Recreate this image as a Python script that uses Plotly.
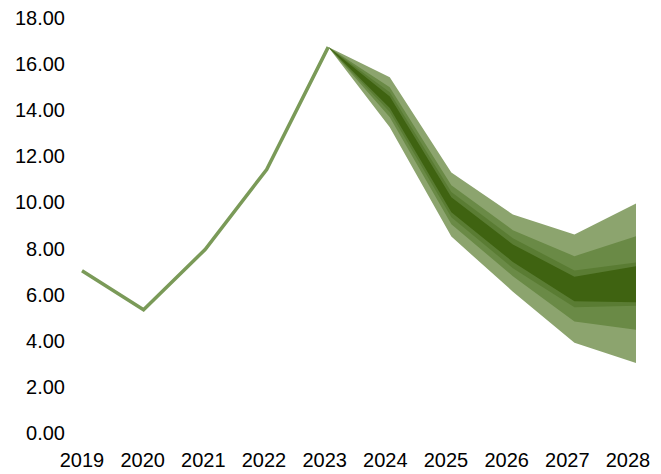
import plotly.graph_objects as go

# Historical series
hist_years = [2019, 2020, 2021, 2022, 2023]
hist_vals = [7.04, 5.35, 7.96, 11.43, 16.74]

# Forecast fan bounds (2023 is the anchor point)
fc_years = [2023, 2024, 2025, 2026, 2027, 2028]
upper_90 = [16.74, 15.43, 11.30, 9.48, 8.61, 9.96]
upper_70 = [16.74, 15.00, 10.75, 8.80, 7.67, 8.53]
upper_50 = [16.74, 14.78, 10.45, 8.45, 7.05, 7.40]
upper_30 = [16.74, 14.60, 10.23, 8.18, 6.78, 7.23]
lower_30 = [16.74, 14.10, 9.58, 7.42, 5.71, 5.67]
lower_50 = [16.74, 13.92, 9.36, 7.15, 5.45, 5.52]
lower_70 = [16.74, 13.70, 9.06, 6.80, 4.84, 4.48]
lower_90 = [16.74, 13.26, 8.52, 6.13, 3.91, 3.04]

year_labels = ["2019", "2020", "2021", "2022", "2023",
               "2024", "2025", "2026", "2027", "2028"]
label_years = list(range(2019, 2029))
y_ticks = [0, 2, 4, 6, 8, 10, 12, 14, 16, 18]

bands = [
    (upper_90, lower_90, "#8CA46E"),
    (upper_70, lower_70, "#6A8A46"),
    (upper_50, lower_50, "#5A7C33"),
    (upper_30, lower_30, "#3F6311"),
]

fig = go.Figure()

for up, lo, col in bands:
    fig.add_trace(go.Scatter(
        x=fc_years + fc_years[::-1],
        y=up + lo[::-1],
        fill="toself",
        fillcolor=col,
        line=dict(width=0, color=col),
        mode="lines",
        hoverinfo="skip",
        showlegend=False,
    ))

fig.add_trace(go.Scatter(
    x=hist_years, y=hist_vals,
    mode="lines",
    line=dict(color="#7A9A58", width=3.5),
    showlegend=False,
))

# invisible trace carrying the category label axis
fig.add_trace(go.Scatter(
    x=label_years, y=[None] * len(label_years),
    xaxis="x2", mode="lines", showlegend=False, hoverinfo="skip",
))

font = dict(family="Liberation Sans, Arial, sans-serif", size=20, color="#000000")

fig.update_layout(
    width=661, height=474,
    margin=dict(l=66, r=11, t=10, b=41),
    paper_bgcolor="white",
    plot_bgcolor="white",
    showlegend=False,
    xaxis=dict(
        range=[2018.74, 2028.2274],
        showticklabels=False, showgrid=False, zeroline=False,
        showline=False, ticks="", automargin=False,
    ),
    xaxis2=dict(
        overlaying="x", side="bottom", anchor="y",
        range=[2018.7363, 2028.3626],
        tickvals=label_years, ticktext=year_labels,
        showgrid=False, zeroline=False, showline=False,
        ticks="outside", ticklen=9, tickcolor="rgba(0,0,0,0)",
        tickfont=font, automargin=False,
    ),
    yaxis=dict(
        range=[0, 18.35],
        tickvals=y_ticks,
        ticktext=[f"{v:.2f}" for v in y_ticks],
        showgrid=False, zeroline=False, showline=False,
        ticks="", tickfont=font, automargin=False,
    ),
)

fig.write_html("out.html")
